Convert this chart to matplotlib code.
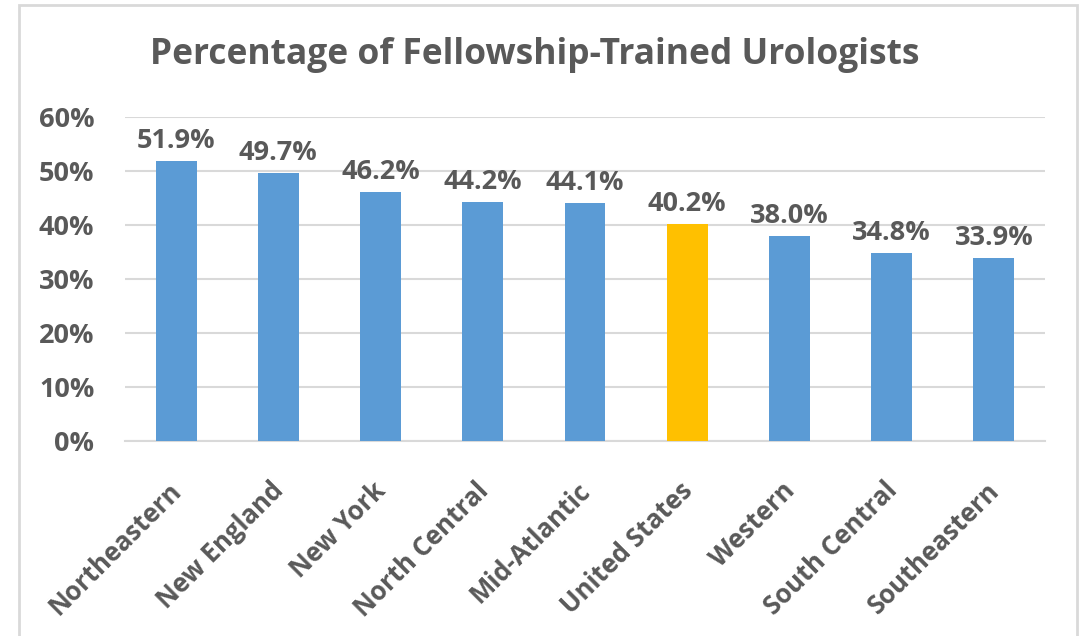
import matplotlib
matplotlib.use("Agg")
import matplotlib.pyplot as plt
import matplotlib.transforms as mtransforms
from matplotlib.ticker import PercentFormatter

categories = ["Northeastern", "New England", "New York", "North Central", "Mid-Atlantic",
              "United States", "Western", "South Central", "Southeastern"]
values = [51.9, 49.7, 46.2, 44.2, 44.1, 40.2, 38.0, 34.8, 33.9]
highlight = "United States"
yticks = [0, 10, 20, 30, 40, 50, 60]

blue = "#5B9BD5"
gold = "#FFC000"
grey = "#595959"
font = "Open Sans"
fs = 19.5
fsx = 18.5

fig = plt.figure(figsize=(10.88, 6.36), dpi=100)
border = plt.Rectangle((19/1088, -0.01), (1077-19)/1088, (636-5)/636 + 0.01,
                       transform=fig.transFigure, fill=False, edgecolor="#D9D9D9", linewidth=2)
fig.patches.append(border)

ax = fig.add_axes([125/1088, 195/636, 920/1088, 324/636])
colors = [gold if c == highlight else blue for c in categories]
x = range(len(categories))
bars = ax.bar(x, values, width=0.4, color=colors, zorder=3)

ax.set_ylim(0, 60)
ax.set_xlim(-0.5, len(categories) - 0.5)
ax.set_yticks(yticks)
ax.yaxis.set_major_formatter(PercentFormatter(decimals=0))
ax.grid(axis="y", color="#D9D9D9", linewidth=1.5, zorder=0)
for s in ["top", "right", "left"]:
    ax.spines[s].set_visible(False)
ax.spines["bottom"].set_color("#D9D9D9")
ax.spines["bottom"].set_linewidth(1.5)
ax.tick_params(axis="both", length=0, colors=grey)
ax.tick_params(axis="y", pad=22)
for lbl in ax.get_yticklabels():
    lbl.set_fontfamily(font)
    lbl.set_fontsize(fs)
    lbl.set_fontweight("bold")
    lbl.set_color(grey)

ax.set_xticks(list(x))
ax.set_xticklabels(categories, rotation=45, ha="right", rotation_mode="anchor",
                   fontfamily=font, fontsize=fsx, fontweight="bold", color=grey)
ax.tick_params(axis="x", pad=26)
shift = mtransforms.ScaledTranslation(-8/100, 0, fig.dpi_scale_trans)
for lbl in ax.get_xticklabels():
    lbl.set_transform(lbl.get_transform() + shift)

for rect, v in zip(bars, values):
    ax.annotate(f"{v:.1f}%", (rect.get_x() + rect.get_width() / 2, v),
                xytext=(0, 5), textcoords="offset points", ha="center", va="bottom",
                fontfamily=font, fontsize=fs, fontweight="bold", color=grey)

fig.text(535/1088, 1 - 55/636, "Percentage of Fellowship-Trained Urologists",
         ha="center", va="center", fontfamily=font, fontsize=25.5, fontweight="bold", color=grey)

fig.savefig("out.png", dpi=100)
